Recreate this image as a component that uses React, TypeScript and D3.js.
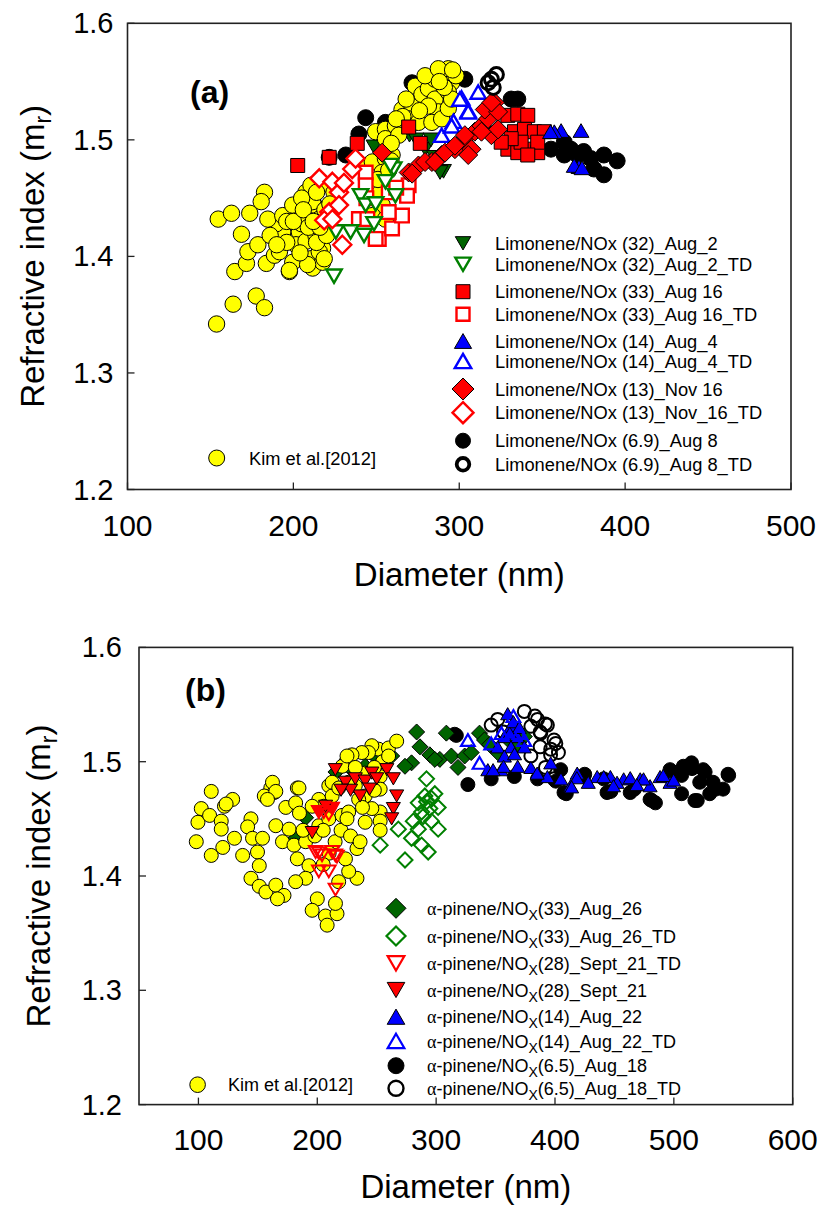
import React from "react";
import * as d3 from "d3";

// ---------- Panel (a) data: [diameter nm, refractive index] ----------
const kimA: [number, number][] = [
  [153.7,1.342],[163.7,1.359],[177.6,1.366],[182.6,1.356],[164.7,1.387],[171.7,1.394],[172.6,1.404],[178.6,1.410],
  [168.7,1.419],[154.7,1.432],[162.7,1.437],[173.7,1.437],[183.7,1.394],[188.6,1.401],[197.6,1.387],[199.6,1.395],
  [210.6,1.398],[211.6,1.390],[201.6,1.438],[193.6,1.421],[203.6,1.421],[201.6,1.410],[212.6,1.444],[189.6,1.428],
  [217.6,1.407],[217.6,1.395],[182.6,1.455],[180.6,1.447],[184.6,1.432],[193.6,1.435],[199.6,1.444],[207.6,1.455],
  [210.6,1.461],[218.6,1.462],[224.5,1.455],[211.6,1.447],[207.6,1.413],[213.6,1.418],[215.6,1.404],[191.6,1.404],
  [218.6,1.398],[208.6,1.393],[197.6,1.388],[215.6,1.432],[220.5,1.427],[196,1.430],[205,1.428],[209,1.425],
  [214,1.412],[204,1.403],[196,1.412],[186,1.418],[220,1.418],[219,1.440],
  [205,1.45],[214,1.455],[200,1.43],[190,1.41],[222,1.445],[216,1.425],[206,1.44],[212,1.43],
  [243.6,1.478],[247.6,1.481],[255.5,1.484],[259.5,1.487],[253.5,1.472],[252.5,1.455],[253.5,1.444],[247.6,1.435],
  [255.5,1.432],[258.8,1.482],[251,1.466],[257.5,1.474],
  [249.6,1.507],[255.5,1.509],[261.5,1.512],[265.5,1.526],[271.5,1.529],[269.5,1.518],[273.5,1.546],[277.5,1.539],
  [281.4,1.544],[285.4,1.552],[293.4,1.561],[290.4,1.555],[295.4,1.549],[285.4,1.535],[293.4,1.541],[287.4,1.524],
  [281.4,1.529],[275.4,1.515],[283.5,1.515],[289.4,1.518],[293.4,1.527],[279.4,1.555],[287.4,1.561],[295.4,1.535],
  [255.5,1.501],[263.5,1.504],[259,1.497],[266,1.52],
  [268,1.535],[276,1.525],[262,1.518],[291,1.545],[288,1.55],[298,1.555],[296,1.56],
];
const limAug2: [number, number][] = [
  [267.5,1.507],[270,1.504],[279.5,1.492],[290.5,1.473],[288.4,1.472],[248.6,1.494],[285,1.485],[274,1.50],[283,1.50],
];
const limAug2TD: [number, number][] = [
  [224.5,1.383],[225.6,1.421],[234.5,1.421],[242.6,1.418],[248.6,1.428],[240.5,1.452],[243.6,1.444],[249.6,1.445],
  [255.5,1.464],[260.5,1.475],[261.5,1.452],[258.5,1.478],
];
const limAug16: [number, number][] = [
  [202.6,1.478],[221.6,1.485],[238.5,1.497],[269.5,1.511],[276.5,1.497],
  [329.3,1.521],[335.3,1.522],[341.3,1.521],[333.3,1.507],[339.3,1.509],[345.3,1.507],[351.3,1.507],[329.3,1.492],
  [335.3,1.489],[343.3,1.492],[347.3,1.489],[337.3,1.498],[331.3,1.501],[347.3,1.498],[341.3,1.487],[325.3,1.498],
];
const limAug16TD: [number, number][] = [
  [243.6,1.472],[243.6,1.461],[239.5,1.432],[244.6,1.432],[251.5,1.415],[259.5,1.424],[265.5,1.435],[269.5,1.461],
  [268.5,1.452],[257.5,1.455],[257.5,1.438],[249.6,1.415],[262,1.459],[244,1.45],
];
const limAug4: [number, number][] = [
  [361.4,1.508],[373.4,1.508],[372.2,1.477],[369.3,1.478],[357.3,1.507],[355,1.507],[374,1.476],
];
const limAug4TD: [number, number][] = [
  [311.4,1.541],[301.4,1.536],[305.4,1.525],[296.5,1.516],[289.4,1.504],[295.4,1.512],[305.4,1.524],[300.4,1.535],
];
const limNov16: [number, number][] = [
  [269.5,1.472],[275.4,1.478],[283.5,1.481],[289.4,1.487],[297.4,1.492],[303.4,1.501],[307.4,1.492],[309.4,1.507],
  [313.4,1.512],[317.4,1.518],[315.4,1.526],[321.4,1.532],[323.4,1.524],[319.4,1.504],[323.4,1.509],[305.4,1.487],
  [279.4,1.481],[285.4,1.481],[291.4,1.489],[297.4,1.495],[303.4,1.504],[313.4,1.507],[319.4,1.532],[253.5,1.489],
  [271.6,1.471],
];
const limNov16TD: [number, number][] = [
  [215.6,1.467],[223.5,1.464],[235.5,1.475],[227.5,1.455],[221.6,1.438],[227.5,1.444],[218.6,1.431],[223.5,1.432],
  [229.5,1.410],[237.5,1.484],[230.5,1.463],
];
const limAug8: [number, number][] = [
  [243.6,1.519],[239.5,1.505],[231.6,1.487],[221.6,1.485],[271.5,1.549],[303.4,1.552],[255.5,1.515],[335.3,1.535],
  [331.3,1.535],[355.3,1.492],[363.3,1.498],[367.3,1.492],[371.2,1.487],[379.2,1.484],[387.2,1.487],[395.2,1.482],
  [387.2,1.470],[381.2,1.475],[363.3,1.487],[375,1.49],[277,1.548],
];
const limAug8TD: [number, number][] = [
  [322.4,1.556],[319.4,1.552],[317.4,1.549],[320.5,1.545],
];

// ---------- Panel (b) data ----------
const kimB: [number, number][] = [
  [110.8,1.474],[102.4,1.459],[99.6,1.447],[98.2,1.430],[110.8,1.418],[109.4,1.453],[119.2,1.448],[119.2,1.441],
  [128.8,1.467],[121.9,1.461],[120.5,1.425],[130.3,1.433],[137.2,1.418],[144.2,1.450],[141.4,1.443],[145.5,1.433],
  [153.9,1.433],[149.7,1.421],[151.2,1.409],[144.2,1.398],[151.2,1.391],[156.8,1.386],[165.1,1.392],[172,1.383],
  [166.5,1.380],[160.9,1.477],[163.7,1.473],[155.4,1.470],[165.1,1.444],[173.5,1.460],[176.3,1.441],[170.7,1.430],
  [183.2,1.477],[180.4,1.427],[183.2,1.415],[190.2,1.430],[193,1.409],[190.2,1.398],[181.8,1.395],[200,1.380],
  [195.7,1.370],[206.9,1.365],[208.3,1.357],[216.6,1.367],[215.3,1.376],[201.3,1.467],[209.7,1.479],[212.5,1.470],
  [201.3,1.444],[209.7,1.450],[220.8,1.453],[226.4,1.456],[232,1.479],[240.3,1.470],[234.8,1.467],[233.4,1.424],
  [233.4,1.398],[226.4,1.404],[223.7,1.415],[252.9,1.487],[252.9,1.476],[252.9,1.456],[252.9,1.448],[252.9,1.440],
  [245.9,1.459],[240.3,1.447],[251.5,1.511],[259.9,1.512],[266.8,1.518],[245.9,1.514],[243.1,1.508],[237.5,1.508],
  [229.2,1.506],[223.7,1.499],[221,1.496],[212.5,1.482],[205.5,1.461],[195.7,1.461],[218.1,1.477],[226.4,1.482],
  [123.3,1.463],[162.3,1.482],[165.1,1.474],[158.1,1.467],[184.6,1.477],[181.8,1.464],
  [215,1.43],[220,1.44],[228,1.435],[210,1.42],[205,1.41],[218,1.395],[225,1.45],[238,1.46],[248,1.475],[240,1.49],
  [232,1.495],[225,1.505],[255,1.5],[248,1.495],[260,1.505],[236,1.43],[198,1.435],[205,1.44],[188,1.44],[185,1.455],
];
const pinAug26: [number, number][] = [
  [283.6,1.526],[308.6,1.525],[286.4,1.513],[294.7,1.506],[303.1,1.502],[312.8,1.505],[318.4,1.495],[324,1.505],
  [329.5,1.508],[336.5,1.525],[340.7,1.519],[279.3,1.499],[273.8,1.496],[262.6,1.505],[251.5,1.505],[240.3,1.496],
  [229.2,1.493],[351.8,1.508],[374.2,1.522],[190.2,1.451],[181.9,1.433],[250.1,1.503],[227.8,1.495],[298.9,1.502],
  [215.7,1.491],[345,1.515],[360,1.52],[368,1.515],
];
const pinAug26TD: [number, number][] = [
  [291.9,1.485],[298.9,1.472],[290.5,1.470],[285,1.464],[287.8,1.456],[294.7,1.459],[301.7,1.460],[296.1,1.448],
  [301.7,1.441],[280.8,1.448],[268.2,1.441],[285,1.441],[252.9,1.427],[273.8,1.414],[279.3,1.433],[287.8,1.427],
  [293.3,1.421],[292,1.465],[296,1.468],[289,1.452],
];
const pinSep21TD: [number, number][] = [
  [201.3,1.420],[212.5,1.421],[216.6,1.417],[201.3,1.404],[209.7,1.404],[215.3,1.388],[198.6,1.421],[204,1.418],
  [215.2,1.418],[201.3,1.456],[209.7,1.454],[212.5,1.459],[205.5,1.456],
];
const pinSep21: [number, number][] = [
  [215.2,1.493],[223.7,1.482],[232,1.485],[240.3,1.483],[258.5,1.493],[264,1.485],[266.8,1.470],[264,1.459],
  [262.6,1.450],[201.3,1.456],[195.7,1.438],[212.5,1.459],[207,1.461],[245.9,1.490],[250,1.485],[236,1.47],
  [228,1.475],[220,1.475],[244,1.476],
];
const pinAug22: [number, number][] = [
  [360.2,1.542],[363,1.531],[357.4,1.522],[368.6,1.522],[351.8,1.513],[363,1.513],[374.2,1.513],[357.4,1.505],
  [343.5,1.493],[354.6,1.493],[368.6,1.496],[379.7,1.495],[396.4,1.499],[393.6,1.487],[413.1,1.479],[418.7,1.490],
  [435.5,1.487],[446.6,1.487],[457.8,1.485],[471.7,1.485],[480,1.479],[441,1.487],[463.3,1.486],[474.5,1.485],
  [488.4,1.487],[496.8,1.482],[468.9,1.480],[452.2,1.482],[418.4,1.486],[491.1,1.488],[499.8,1.484],[449.2,1.479],
  [414,1.478],[356.7,1.496],[347.9,1.493],[385,1.49],[405,1.485],[428,1.482],[365,1.535],[370,1.53],[362,1.525],
  [366,1.507],
];
const pinAug22TD: [number, number][] = [
  [326.7,1.519],[336.5,1.499],[346.3,1.516],[374.2,1.519],[355,1.525],[365,1.54],[370,1.525],
];
const pinAug18: [number, number][] = [
  [315.6,1.524],[326.7,1.480],[346.3,1.485],[365.8,1.487],[385.3,1.485],[407.6,1.473],[404.8,1.493],[424.3,1.487],
  [441,1.485],[480,1.467],[443.8,1.473],[463.3,1.473],[481.5,1.466],[496.8,1.493],[508,1.496],[514.9,1.499],
  [524.7,1.493],[533,1.482],[541.4,1.476],[545.6,1.489],[506.5,1.472],[517.7,1.466],[530.2,1.472],[521.8,1.482],
  [400.7,1.483],[409.5,1.472],[425,1.489],[447,1.474],[466.8,1.476],[484.5,1.464],[506.5,1.488],[519.7,1.466],
  [535.1,1.476],[546.1,1.488],[515.3,1.494],[526.3,1.491],[497.7,1.491],[317,1.523],
];
const pinAug18TD: [number, number][] = [
  [374.2,1.544],[385.3,1.537],[393.6,1.532],[399.2,1.519],[396.4,1.511],[388,1.525],[379.7,1.531],[346.3,1.532],
  [351.8,1.537],[399.2,1.485],[379.7,1.505],[383.1,1.540],[391.9,1.533],[400.7,1.516],[402.9,1.508],[387.5,1.526],
  [356.7,1.526],[387.5,1.513],[396.3,1.506],[392,1.495],
];

// ---------- Tick values and labels ----------
const xTicksA = [100, 200, 300, 400, 500];
const xTicksB = [100, 200, 300, 400, 500, 600];
const yTicks = [1.2, 1.3, 1.4, 1.5, 1.6];
const legendA = [
  "Limonene/NOx (32)_Aug_2",
  "Limonene/NOx (32)_Aug_2_TD",
  "Limonene/NOx (33)_Aug 16",
  "Limonene/NOx (33)_Aug 16_TD",
  "Limonene/NOx (14)_Aug_4",
  "Limonene/NOx (14)_Aug_4_TD",
  "Limonene/NOx (13)_Nov 16",
  "Limonene/NOx (13)_Nov_16_TD",
  "Limonene/NOx (6.9)_Aug 8",
  "Limonene/NOx (6.9)_Aug 8_TD",
];
const legendBSuffix = [
  "(33)_Aug_26",
  "(33)_Aug_26_TD",
  "(28)_Sept_21_TD",
  "(28)_Sept_21",
  "(14)_Aug_22",
  "(14)_Aug_22_TD",
  "(6.5)_Aug_18",
  "(6.5)_Aug_18_TD",
];
const kimLabel = "Kim et al.[2012]";

type Shape = "circle" | "square" | "up" | "down" | "diamond";
interface MStyle { shape: Shape; fill: string; stroke: string; sw: number; s: number; }

const GREEN_D = "#006400";
const GREEN_O = "#008000";
const RED = "#ff0000";
const BLUE = "#0000ff";
const YEL = "#ffff00";

function markerPath(shape: Shape, s: number): string {
  const p = d3.path();
  if (shape === "circle") {
    p.arc(0, 0, s, 0, Math.PI * 2);
  } else if (shape === "square") {
    p.rect(-s, -s, 2 * s, 2 * s);
  } else if (shape === "up") {
    const w = s * 1.1, h = s * 0.95;
    p.moveTo(0, -h); p.lineTo(w, h); p.lineTo(-w, h); p.closePath();
  } else if (shape === "down") {
    const w = s * 1.1, h = s * 0.95;
    p.moveTo(0, h); p.lineTo(w, -h); p.lineTo(-w, -h); p.closePath();
  } else {
    p.moveTo(0, -s); p.lineTo(s, 0); p.lineTo(0, s); p.lineTo(-s, 0); p.closePath();
  }
  return p.toString();
}

function Marker({ x, y, st }: { x: number; y: number; st: MStyle }) {
  return (
    <path
      d={markerPath(st.shape, st.s)}
      transform={`translate(${x},${y})`}
      fill={st.fill}
      stroke={st.stroke}
      strokeWidth={st.sw}
      strokeLinejoin="miter"
    />
  );
}

interface Layer { data: [number, number][]; st: MStyle; }

const FONT = "'Liberation Sans', Arial, Helvetica, sans-serif";

function Panel(props: {
  left: number; right: number; top: number; bottom: number;
  xDomain: [number, number]; xTicks: number[];
  layers: Layer[];
  tag: string; tagX: number; tagY: number;
  yLabelX: number; xLabelY: number; xTickY: number; yTickGap: number;
  children?: React.ReactNode;
}) {
  const { left, right, top, bottom } = props;
  const x = d3.scaleLinear().domain(props.xDomain).range([left, right]);
  const y = d3.scaleLinear().domain([1.2, 1.6]).range([bottom, top]);
  const cy = (top + bottom) / 2;
  const cx = (left + right) / 2;
  return (
    <g fontFamily={FONT}>
      <defs>
        <clipPath id={`clip-${props.tag}`}>
          <rect x={left} y={top} width={right - left} height={bottom - top} />
        </clipPath>
      </defs>
      <g clipPath={`url(#clip-${props.tag})`}>
        {props.layers.map((L, i) => (
          <g key={i}>
            {L.data.map((d, j) => (
              <Marker key={j} x={x(d[0])} y={y(d[1])} st={L.st} />
            ))}
          </g>
        ))}
      </g>
      <rect x={left} y={top} width={right - left} height={bottom - top} fill="none" stroke="#222" strokeWidth={1.6} />
      {props.xTicks.map((t) => (
        <g key={t}>
          <line x1={x(t)} x2={x(t)} y1={bottom} y2={bottom - 7} stroke="#222" strokeWidth={1.3} />
          <text x={x(t)} y={props.xTickY} textAnchor="middle" fontSize={30} fill="#000">{t}</text>
        </g>
      ))}
      {yTicks.map((t) => (
        <g key={t}>
          <line x1={left} x2={left + 7} y1={y(t)} y2={y(t)} stroke="#222" strokeWidth={1.3} />
          <text x={left - props.yTickGap} y={y(t) + 10} textAnchor="end" fontSize={29} fill="#000">{t.toFixed(1)}</text>
        </g>
      ))}
      <text transform={`translate(${props.yLabelX},${cy}) rotate(-90)`} textAnchor="middle" fontSize={33} fill="#000">
        Refractive index (m<tspan dy={7} fontSize={23}>r</tspan><tspan dy={-7}>)</tspan>
      </text>
      <text x={cx} y={props.xLabelY} textAnchor="middle" fontSize={33} fill="#000">Diameter (nm)</text>
      <text x={props.tagX} y={props.tagY} fontSize={32} fontWeight="bold" fill="#000">({props.tag})</text>
      {props.children}
    </g>
  );
}

export default function App() {
  // Panel (a) styles
  const aKim: MStyle = { shape: "circle", fill: YEL, stroke: "#000", sw: 1, s: 8.2 };
  const aGreenF: MStyle = { shape: "down", fill: GREEN_D, stroke: "#000", sw: 1, s: 7.2 };
  const aGreenO: MStyle = { shape: "down", fill: "#fff", stroke: GREEN_O, sw: 2.4, s: 7 };
  const aRedSqF: MStyle = { shape: "square", fill: RED, stroke: "#000", sw: 1, s: 7 };
  const aRedSqO: MStyle = { shape: "square", fill: "#fff", stroke: RED, sw: 2.4, s: 6.8 };
  const aBlueF: MStyle = { shape: "up", fill: BLUE, stroke: "#000", sw: 1, s: 7.2 };
  const aBlueO: MStyle = { shape: "up", fill: "#fff", stroke: BLUE, sw: 2.4, s: 7 };
  const aDiaF: MStyle = { shape: "diamond", fill: RED, stroke: "#000", sw: 1, s: 9.5 };
  const aDiaO: MStyle = { shape: "diamond", fill: "#fff", stroke: RED, sw: 2.4, s: 9 };
  const aBlkF: MStyle = { shape: "circle", fill: "#000", stroke: "#000", sw: 1, s: 8 };
  const aBlkO: MStyle = { shape: "circle", fill: "none", stroke: "#000", sw: 3, s: 7 };

  const layersA: Layer[] = [
    { data: limAug2, st: aGreenF },
    { data: limAug8, st: aBlkF },
    { data: kimA, st: aKim },
    { data: limAug16TD, st: aRedSqO },
    { data: limAug2TD, st: aGreenO },
    { data: limAug16, st: aRedSqF },
    { data: limAug4, st: aBlueF },
    { data: limAug4TD, st: aBlueO },
    { data: limNov16, st: aDiaF },
    { data: limNov16TD, st: aDiaO },
    { data: limAug8TD, st: aBlkO },
  ];

  // Panel (b) styles
  const bKim: MStyle = { shape: "circle", fill: YEL, stroke: "#000", sw: 1, s: 7 };
  const bDiaF: MStyle = { shape: "diamond", fill: GREEN_D, stroke: "#000", sw: 1, s: 8 };
  const bDiaO: MStyle = { shape: "diamond", fill: "none", stroke: GREEN_O, sw: 2, s: 7.5 };
  const bRedF: MStyle = { shape: "down", fill: RED, stroke: "#000", sw: 1, s: 6.4 };
  const bRedO: MStyle = { shape: "down", fill: "none", stroke: RED, sw: 2, s: 6.2 };
  const bBlueF: MStyle = { shape: "up", fill: BLUE, stroke: "#000", sw: 1, s: 6.4 };
  const bBlueO: MStyle = { shape: "up", fill: "none", stroke: BLUE, sw: 2.2, s: 6.2 };
  const bBlkF: MStyle = { shape: "circle", fill: "#000", stroke: "#000", sw: 1, s: 7 };
  const bBlkO: MStyle = { shape: "circle", fill: "none", stroke: "#000", sw: 2, s: 6.5 };

  const layersB: Layer[] = [
    { data: pinAug18, st: bBlkF },
    { data: pinAug18TD, st: bBlkO },
    { data: pinAug26TD, st: bDiaO },
    { data: pinAug26, st: bDiaF },
    { data: kimB, st: bKim },
    { data: pinSep21, st: bRedF },
    { data: pinSep21TD, st: bRedO },
    { data: pinAug22, st: bBlueF },
    { data: pinAug22TD, st: bBlueO },
  ];

  // legend styles
  const legAStyles: MStyle[] = [
    { shape: "down", fill: GREEN_D, stroke: "#000", sw: 1, s: 7 },
    { shape: "down", fill: "#fff", stroke: GREEN_O, sw: 2.4, s: 7 },
    { shape: "square", fill: RED, stroke: "#000", sw: 1, s: 7 },
    { shape: "square", fill: "#fff", stroke: RED, sw: 2.4, s: 6.5 },
    { shape: "up", fill: BLUE, stroke: "#000", sw: 1, s: 7.8 },
    { shape: "up", fill: "#fff", stroke: BLUE, sw: 2.4, s: 7.5 },
    { shape: "diamond", fill: RED, stroke: "#000", sw: 1, s: 11 },
    { shape: "diamond", fill: "#fff", stroke: RED, sw: 2.4, s: 10.5 },
    { shape: "circle", fill: "#000", stroke: "#000", sw: 1, s: 7.5 },
    { shape: "circle", fill: "none", stroke: "#000", sw: 3.8, s: 6.3 },
  ];
  const legARows = [243.3, 264.3, 291.7, 314.3, 341, 361, 389, 412.7, 440.7, 464.3];

  const legBStyles: MStyle[] = [
    { shape: "diamond", fill: GREEN_D, stroke: "#000", sw: 1, s: 10 },
    { shape: "diamond", fill: "#fff", stroke: GREEN_O, sw: 2.2, s: 9.5 },
    { shape: "down", fill: "#fff", stroke: RED, sw: 2.2, s: 7.6 },
    { shape: "down", fill: RED, stroke: "#000", sw: 1, s: 8 },
    { shape: "up", fill: BLUE, stroke: "#000", sw: 1, s: 8 },
    { shape: "up", fill: "#fff", stroke: BLUE, sw: 2.2, s: 7.6 },
    { shape: "circle", fill: "#000", stroke: "#000", sw: 1, s: 8 },
    { shape: "circle", fill: "#fff", stroke: "#000", sw: 2.4, s: 7.5 },
  ];
  const legBRows = [908.3, 936, 963.3, 990, 1016.7, 1041, 1065.7, 1088.3];

  return (
    <svg
      width={822}
      height={1205}
      viewBox="0 0 822 1205"
      style={{ position: "absolute", left: 0, top: 0, background: "#fff" }}
    >
      <rect x={0} y={0} width={822} height={1205} fill="#fff" />
      <Panel
        left={127.5} right={791} top={23.3} bottom={489.5}
        xDomain={[100, 500]} xTicks={xTicksA} layers={layersA}
        tag="a" tagX={190} tagY={103}
        yLabelX={44} xLabelY={586} xTickY={536} yTickGap={14}
      >
        <g fontFamily={FONT}>
          {legendA.map((t, i) => (
            <g key={t}>
              <Marker x={463} y={legARows[i]} st={legAStyles[i]} />
              <text x={495} y={legARows[i] + 6.5} fontSize={18.3} fill="#000">{t}</text>
            </g>
          ))}
          <Marker x={216.7} y={458} st={{ shape: "circle", fill: YEL, stroke: "#000", sw: 1, s: 8 }} />
          <text x={249} y={464.5} fontSize={18.3} fill="#000">{kimLabel}</text>
        </g>
      </Panel>
      <Panel
        left={139} right={792.7} top={647.4} bottom={1104.6}
        xDomain={[50, 600]} xTicks={xTicksB} layers={layersB}
        tag="b" tagX={185} tagY={701}
        yLabelX={50} xLabelY={1198} xTickY={1150} yTickGap={17}
      >
        <g fontFamily={FONT}>
          {legendBSuffix.map((t, i) => (
            <g key={t}>
              <Marker x={396} y={legBRows[i]} st={legBStyles[i]} />
              <text x={427} y={legBRows[i] + 6.5} fontSize={18} fill="#000">
                <tspan fontFamily="'Liberation Serif', 'DejaVu Serif', serif">α</tspan>-pinene/NO
                <tspan dy={5} fontSize={14}>X</tspan>
                <tspan dy={-5}>{t}</tspan>
              </text>
            </g>
          ))}
          <Marker x={197.6} y={1084.7} st={{ shape: "circle", fill: YEL, stroke: "#000", sw: 1, s: 7.8 }} />
          <text x={228} y={1091} fontSize={18} fill="#000">{kimLabel}</text>
        </g>
      </Panel>
    </svg>
  );
}
